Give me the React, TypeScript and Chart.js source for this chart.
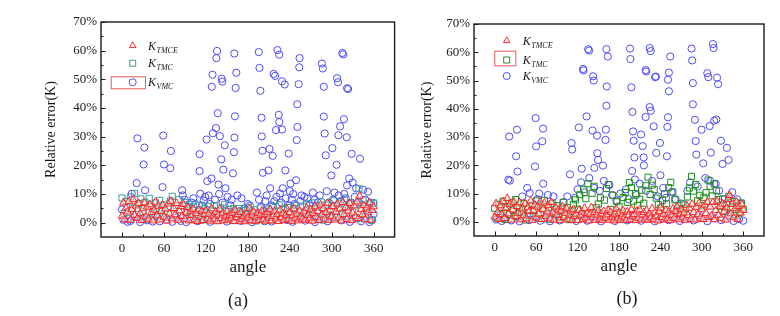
import React, { useEffect, useRef } from 'react';
import { Chart, registerables } from 'chart.js';

Chart.register(...registerables);

const FONT = '"Liberation Serif", "Times New Roman", serif';

// ---------- tick labels ----------
const xTicks = [0, 60, 120, 180, 240, 300, 360];
const xMinorTicks = [30, 90, 150, 210, 270, 330];
const yTicks = [0, 10, 20, 30, 40, 50, 60, 70];
const yMinorTicks = [5, 15, 25, 35, 45, 55, 65];

// ---------- angle grids ----------
const angles2 = [
  0, 2, 4, 6, 8, 10, 12, 14, 16, 18,
  20, 22, 24, 26, 28, 30, 32, 34, 36, 38,
  40, 42, 44, 46, 48, 50, 52, 54, 56, 58,
  60, 62, 64, 66, 68, 70, 72, 74, 76, 78,
  80, 82, 84, 86, 88, 90, 92, 94, 96, 98,
  100, 102, 104, 106, 108, 110, 112, 114, 116, 118,
  120, 122, 124, 126, 128, 130, 132, 134, 136, 138,
  140, 142, 144, 146, 148, 150, 152, 154, 156, 158,
  160, 162, 164, 166, 168, 170, 172, 174, 176, 178,
  180, 182, 184, 186, 188, 190, 192, 194, 196, 198,
  200, 202, 204, 206, 208, 210, 212, 214, 216, 218,
  220, 222, 224, 226, 228, 230, 232, 234, 236, 238,
  240, 242, 244, 246, 248, 250, 252, 254, 256, 258,
  260, 262, 264, 266, 268, 270, 272, 274, 276, 278,
  280, 282, 284, 286, 288, 290, 292, 294, 296, 298,
  300, 302, 304, 306, 308, 310, 312, 314, 316, 318,
  320, 322, 324, 326, 328, 330, 332, 334, 336, 338,
  340, 342, 344, 346, 348, 350, 352, 354, 356, 358,
  360,
];

const angles3 = [
  0, 3, 6, 9, 12, 15, 18, 21, 24, 27,
  30, 33, 36, 39, 42, 45, 48, 51, 54, 57,
  60, 63, 66, 69, 72, 75, 78, 81, 84, 87,
  90, 93, 96, 99, 102, 105, 108, 111, 114, 117,
  120, 123, 126, 129, 132, 135, 138, 141, 144, 147,
  150, 153, 156, 159, 162, 165, 168, 171, 174, 177,
  180, 183, 186, 189, 192, 195, 198, 201, 204, 207,
  210, 213, 216, 219, 222, 225, 228, 231, 234, 237,
  240, 243, 246, 249, 252, 255, 258, 261, 264, 267,
  270, 273, 276, 279, 282, 285, 288, 291, 294, 297,
  300, 303, 306, 309, 312, 315, 318, 321, 324, 327,
  330, 333, 336, 339, 342, 345, 348, 351, 354, 357,
  360,
];

// ---------- panel (a) ----------
const tmceA = [
  2.3, 6.9, 1.1, 5.2, 3.8, 7.4, 0.9, 4.6, 8.1, 2.7,
  5.9, 1.6, 6.7, 3.2, 0.8, 4.9, 7.0, 2.1, 5.5, 1.3,
  6.3, 3.6, 0.7, 4.4, 7.2, 2.5, 5.8, 1.0, 3.9, 6.1,
  2.0, 4.8, 0.6, 6.6, 3.1, 7.5, 1.4, 5.0, 2.8, 6.8,
  0.9, 4.1, 5.7, 2.2, 6.4, 1.2, 3.5, 5.3, 0.7, 4.0,
  2.6, 4.7, 1.0, 3.3, 0.5, 4.5, 2.0, 3.9, 0.8, 2.9,
  4.2, 1.3, 3.0, 0.6, 4.9, 2.4, 1.1, 3.7, 0.4, 2.7,
  4.6, 1.5, 3.2, 0.7, 2.1, 3.9, 0.9, 2.6, 1.4, 3.4,
  0.5, 4.3, 1.8, 2.9, 0.6, 3.6, 1.2, 2.3, 0.4, 3.1,
  1.7, 5.0, 0.8, 2.5, 3.8, 0.5, 1.9, 3.3, 0.9, 2.6,
  4.1, 1.0, 2.8, 0.6, 3.5, 1.6, 4.6, 0.7, 2.2, 3.9,
  1.3, 2.9, 0.5, 4.4, 1.8, 3.2, 0.8, 2.5, 4.8, 1.1,
  3.6, 0.6, 2.4, 4.9, 1.5, 3.0, 0.7, 4.2, 2.0, 1.2,
  3.8, 0.9, 5.1, 2.6, 1.4, 4.5, 0.6, 3.3, 5.6, 1.9,
  4.0, 0.8, 6.2, 2.7, 5.0, 1.3, 3.6, 6.8, 0.9, 4.4,
  2.1, 5.7, 1.0, 3.8, 6.5, 1.7, 4.9, 0.7, 7.1, 2.9,
  5.3, 1.2, 4.1, 6.7, 0.8, 3.4, 5.9, 2.2, 7.3, 1.5,
  9.3, 4.6, 2.8, 6.0, 1.1, 5.2, 3.5, 7.0, 0.9, 4.3,
  5.6,
];

const tmcA = [
  8.6, 3.2, 7.4, 1.5, 9.0, 5.1, 10.2, 2.8, 6.7, 8.3,
  4.0, 7.1, 1.2, 8.5, 5.6, 3.3, 6.9, 2.0, 7.8, 4.7,
  6.2, 1.8, 5.4, 7.6, 9.2, 3.0, 6.0, 8.0, 2.5, 5.8,
  7.0, 3.6, 6.3, 1.1, 5.5, 4.2, 2.3, 6.1, 0.9, 4.8,
  3.5, 5.7, 1.6, 4.4, 6.0, 2.7, 0.8, 5.2, 3.9, 6.4,
  1.4, 4.6, 2.9, 5.0, 0.7, 3.8, 4.9, 1.9, 3.1, 4.3,
  5.4, 1.0, 3.7, 4.5, 0.6, 2.8, 5.1, 1.5, 4.0, 3.2,
  4.8, 0.9, 5.6, 2.4, 3.9, 6.2, 1.3, 4.6, 2.0, 5.3,
  3.6, 0.8, 4.9, 6.0, 1.7, 3.4, 5.8, 2.6, 6.6, 1.2,
  4.7, 6.9, 2.1, 5.5, 3.3, 7.2, 0.9, 6.1, 4.0, 2.6,
  5.9, 7.6, 1.8, 4.8, 6.8, 3.0, 8.1, 2.2, 5.4, 7.0,
  3.7, 6.3, 1.4, 11.8, 5.0, 7.9, 2.9, 4.4, 6.5, 0.8,
  6.9,
];

const vmcA: [number, number][] = [
  [0, 4.6], [2, 1.0], [8, 0.3], [12, 0.6], [14, 10.1], [18, 2.1], [21, 13.8], [22, 29.4],
  [26, 0.2], [30, 1.5], [31, 20.3], [32, 26.2], [33, 11.3], [36, 0.8], [44, 0.4], [48, 2.4],
  [54, 0.5], [58, 12.4], [59, 30.4], [60, 20.3], [64, 1.2], [69, 19.0], [70, 25.0], [72, 0.3],
  [78, 1.8], [84, 0.6], [86, 11.3], [87, 9.5], [90, 8.0], [92, 0.2], [95, 5.5], [98, 2.0],
  [100, 7.0], [102, 8.5], [105, 6.5], [108, 0.5], [111, 23.9], [111, 18.0], [112, 10.1], [114, 1.1],
  [115, 6.0], [117, 7.7], [119, 9.0], [121, 29.0], [122, 14.5], [124, 9.5], [126, 6.5], [126, 0.3],
  [128, 15.4], [128.5, 47.4], [129.5, 51.6], [130, 31.2], [132, 1.7], [133, 8.0], [134.5, 33.0], [135, 57.4],
  [136, 59.9], [137, 38.2], [138, 13.3], [139, 10.0], [140, 30.2], [142, 22.1], [142.7, 50.2], [143.6, 49.2],
  [144, 7.0], [145, 18.5], [147, 27.0], [148, 12.0], [150, 0.4], [151, 9.0], [154, 2.2], [155, 6.0],
  [157, 8.0], [158.8, 17.2], [160.2, 24.6], [161, 29.7], [161.6, 37.1], [160.7, 59.0], [162.6, 47.0], [163.5, 52.3],
  [165, 9.5], [168, 4.0], [170, 0.6], [171, 8.5], [175, 5.0], [178, 1.3], [180, 6.5], [183, 6.0],
  [186, 0.2], [187, 3.5], [190, 1.9], [193, 10.5], [195.7, 59.5], [196, 8.0], [196.7, 54.0], [198, 46.0],
  [199, 5.5], [199.6, 36.6], [200, 30.1], [201, 25.1], [201.5, 17.4], [204, 0.5], [205, 7.5], [207, 9.5],
  [208, 2.6], [209.5, 18.2], [211, 25.7], [212, 12.0], [214, 6.0], [214, 0.4], [215.6, 23.3], [217, 51.9],
  [218, 7.5], [219, 51.2], [220.4, 32.3], [221, 9.0], [222.3, 60.2], [224.3, 37.6], [225, 58.6], [225, 35.1],
  [226, 10.2], [228, 7.0], [229, 32.5], [229, 49.3], [230, 12.0], [232.8, 48.2], [233.7, 18.2], [234, 8.5],
  [236, 0.9], [238.4, 24.1], [239, 6.0], [240, 11.0], [241, 13.6], [243, 8.0], [244, 0.3], [245, 10.0],
  [247, 6.5], [249, 14.8], [250, 28.8], [251, 33.4], [250.7, 41.3], [252.7, 48.3], [253.6, 54.2], [254, 57.4],
  [255, 7.5], [256, 1.6], [257, 9.5], [261, 9.0], [262, 0.7], [265, 8.5], [268, 6.0], [268, 2.8],
  [273, 10.5], [276, 8.0], [276, 0.2], [280, 7.0], [282, 1.4], [283, 9.5], [286, 55.5], [287.3, 53.8],
  [288.7, 47.4], [288.7, 37.0], [290, 31.1], [291.5, 23.5], [293, 11.0], [294, 0.5], [296, 7.0], [298, 2.0],
  [299.5, 16.5], [301, 26.0], [302, 8.0], [304, 10.5], [307, 20.2], [307.7, 50.4], [309, 49.0], [309.6, 30.5],
  [310, 9.5], [312, 33.6], [313, 7.5], [314, 0.8], [315.2, 59.2], [316.5, 58.7], [317.5, 36.1], [318, 10.0],
  [320, 8.5], [321.5, 29.8], [322, 46.9], [322, 13.0], [323.5, 46.6], [325, 15.4], [326, 0.3], [327, 6.5],
  [328.6, 24.0], [330, 14.0], [333, 9.0], [334, 1.7], [335, 12.0], [338, 7.0], [340.5, 22.3], [342, 0.5],
  [345, 11.5], [348, 8.0], [348, 2.1], [352, 10.8], [354, 0.2], [356, 7.0], [358, 1.0], [360, 6.8],
  [360, 3.0],
];

// ---------- panel (b) ----------
const tmceB = [
  1.8, 6.5, 3.4, 0.9, 5.7, 2.6, 7.2, 1.3, 4.8, 8.3,
  2.9, 6.1, 0.7, 4.3, 7.0, 1.9, 5.5, 3.1, 6.8, 0.8,
  4.6, 2.2, 6.4, 1.1, 5.1, 3.7, 7.4, 0.6, 4.0, 6.0,
  1.5, 5.3, 2.8, 7.1, 0.9, 4.5, 6.7, 2.0, 3.6, 5.9,
  1.2, 6.9, 3.3, 0.7, 5.0, 2.5, 4.2, 0.5, 3.8, 5.4,
  1.6, 3.1, 4.7, 0.8, 2.4, 3.9, 0.6, 4.4, 1.9, 2.8,
  0.5, 4.1, 2.2, 3.5, 0.9, 4.8, 1.4, 3.0, 0.4, 2.6,
  5.1, 1.7, 3.3, 0.6, 2.4, 4.0, 1.0, 2.9, 0.5, 3.7,
  1.3, 2.5, 4.2, 0.7, 3.4, 1.6, 0.4, 2.8, 4.6, 1.1,
  3.2, 0.6, 2.1, 4.0, 1.4, 0.5, 3.6, 2.3, 0.8, 4.4,
  1.8, 2.7, 0.5, 3.9, 1.2, 4.3, 0.7, 2.5, 3.4, 1.0,
  4.1, 0.6, 2.9, 1.5, 4.7, 0.9, 3.3, 2.0, 0.4, 3.7,
  5.0, 1.6, 2.6, 0.7, 4.1, 1.1, 3.5, 0.5, 2.2, 4.6,
  1.3, 3.8, 5.4, 0.8, 2.7, 4.4, 1.5, 3.1, 0.6, 5.8,
  2.3, 4.9, 1.0, 6.3, 3.4, 0.7, 5.2, 2.6, 6.6, 1.4,
  4.5, 0.9, 6.0, 3.0, 7.0, 1.6, 5.3, 2.1, 6.9, 0.8,
  4.0, 7.2, 2.4, 5.6, 1.2, 6.4, 3.6, 0.7, 5.0, 8.0,
  9.4, 2.9, 6.2, 1.5, 4.7, 7.1, 0.9, 5.5, 3.2, 6.1,
  4.2,
];

const tmcB = [
  4.8, 1.5, 6.2, 3.0, 7.3, 0.9, 5.4, 2.6, 6.8, 4.1,
  7.9, 1.8, 5.0, 3.4, 6.5, 0.7, 4.4, 2.2, 5.8, 3.9,
  7.4, 1.2, 6.0, 4.6, 7.6, 2.8, 5.2, 0.9, 6.4, 3.5,
  5.7, 1.6, 4.3, 6.9, 2.4, 5.1, 0.8, 3.7, 6.2, 7.8,
  4.5, 9.6, 2.7, 11.4, 8.2, 13.5, 3.1, 10.1, 12.6, 5.0,
  6.3, 8.5, 2.1, 7.7, 11.8, 13.2, 4.4, 9.4, 1.8, 7.1,
  5.5, 3.0, 8.6, 10.4, 6.9, 13.9, 12.2, 7.3, 10.0, 5.8,
  8.0, 11.2, 6.6, 12.8, 15.8, 9.7, 13.0, 11.5, 8.4, 6.1,
  4.9, 7.6, 9.9, 6.4, 12.1, 14.0, 10.6, 7.8, 4.0, 5.9,
  3.2, 6.3, 4.7, 8.8, 12.0, 16.1, 10.9, 13.2, 7.5, 9.4,
  5.7, 8.7, 10.3, 14.8, 12.6, 9.2, 13.4, 11.0, 7.9, 5.5,
  8.1, 3.6, 6.4, 9.0, 4.9, 7.3, 2.3, 5.6, 3.1, 6.7,
  4.4,
];

const vmcB: [number, number][] = [
  [2, 0.8], [6, 2.5], [10, 0.3], [14, 1.4], [19.7, 14.9], [21, 30.2], [22, 14.6], [24, 0.5],
  [28, 2.2], [31, 23.2], [32.2, 32.6], [33, 17.8], [36, 0.2], [40, 9.0], [42, 1.6], [47, 12.0],
  [50, 0.6], [50.6, 10.2], [56, 2.0], [58.3, 19.6], [59.2, 36.7], [60, 26.7], [62, 8.0], [64.5, 10.0],
  [66, 0.4], [68.8, 28.5], [70, 33.0], [70.3, 13.5], [72, 1.2], [77, 9.5], [80, 0.2], [85, 9.0],
  [88, 2.6], [94, 0.5], [100, 7.0], [105, 9.0], [109, 16.8], [110, 1.0], [111.3, 27.9], [112.2, 25.6],
  [116, 8.5], [118, 0.3], [120, 11.5], [121.8, 33.4], [125, 14.0], [126, 18.8], [128, 54.1], [128.6, 53.6],
  [128, 2.1], [130, 10.5], [133, 37.3], [134, 0.4], [135.3, 61.1], [136.7, 60.6], [137, 15.5], [141.6, 32.3],
  [142.5, 51.5], [143.4, 50.0], [144, 12.0], [144.3, 19.1], [146, 1.5], [148.2, 30.5], [148.6, 24.3], [149.6, 21.9],
  [152, 11.0], [154, 0.2], [156.8, 19.9], [158, 14.5], [160.5, 29.0], [160.9, 32.6], [161.8, 41.1], [161.8, 61.1],
  [162, 1.8], [162.3, 47.9], [163.7, 58.5], [166, 13.0], [170, 9.5], [174, 0.3], [176, 7.5], [182, 10.0],
  [184, 1.2], [190, 11.5], [192, 0.5], [194, 8.0], [196, 61.3], [196.5, 57.6], [197.9, 47.6], [199.4, 38.9],
  [200, 2.3], [200.3, 32.0], [201.3, 28.7], [202.3, 22.8], [203, 15.0], [199, 18.0], [205, 9.5], [210, 13.5],
  [211.9, 30.9], [212, 0.4], [214.3, 26.8], [215.7, 22.8], [216, 20.0], [218.6, 53.7], [219.5, 53.2], [218.6, 37.1],
  [219, 11.0], [222, 1.7], [224.4, 61.5], [224.4, 40.6], [225.9, 60.4], [226, 39.3], [228, 14.5], [230.2, 33.8],
  [232, 0.2], [232.2, 51.2], [233.5, 51.4], [234, 24.4], [236, 9.0], [239.3, 27.9], [240, 16.5], [242, 1.1],
  [244, 12.0], [248, 8.5], [249.4, 23.2], [250, 33.6], [250.9, 37.0], [250.9, 50.3], [252, 0.6], [252.3, 46.2],
  [252.3, 52.8], [254.2, 58.5], [256, 10.5], [260, 2.0], [262, 8.0], [268, 0.3], [270, 6.5], [278, 1.5],
  [279, 11.0], [283, 14.0], [285.1, 61.3], [286, 57.1], [287, 49.1], [287, 41.6], [288, 0.5], [290, 36.1],
  [291, 28.6], [292, 23.8], [294, 12.5], [296, 2.4], [299.6, 32.6], [302, 20.7], [305, 15.5], [307.9, 52.6],
  [308, 0.2], [309.4, 51.2], [311.3, 33.9], [312, 14.5], [313, 24.5], [316, 62.9], [317, 61.5], [317.8, 35.8],
  [318, 1.3], [320, 13.5], [321, 36.2], [322, 51.0], [323.5, 48.7], [325, 11.0], [327.7, 28.7], [328, 0.6],
  [330, 20.5], [333, 8.0], [336.3, 26.2], [338, 2.2], [338.7, 21.9], [344, 10.5], [346, 0.3], [351, 8.0],
  [354, 1.0], [357, 6.5], [360, 0.4],
];

const seriesNames = ['TMCE', 'TMC', 'VMC'];

const RED = '#ff2424';
const BLUE = '#4c4cf6';

type PanelCfg = {
  left: number;
  width: number;
  padTop: number;
  padRight: number;
  yWidth: number;
  xHeight: number;
  yTitlePad: number;
  xTitlePad: number;
  tmcColor: string;
  tmce: number[];
  tmc: number[];
  vmc: [number, number][];
  caption: string;
  captionX: number;
  captionY: number;
  legendX: number;
  legendYs: number[];
  legendTextX: number;
  box: { x: number; y: number; w: number; h: number };
};

const panels: PanelCfg[] = [
  {
    left: 0, width: 400, padTop: 22, padRight: 5, yWidth: 101, xHeight: 79,
    yTitlePad: 43, xTitlePad: 38, tmcColor: '#3a9d9d',
    tmce: tmceA, tmc: tmcA, vmc: vmcA,
    caption: '(a)', captionX: 238, captionY: 300,
    legendX: 132.7, legendYs: [45.7, 63.3, 82.3], legendTextX: 148,
    box: { x: 110.7, y: 76.3, w: 34.3, h: 12 },
  },
  {
    left: 400, width: 380, padTop: 24, padRight: 16, yWidth: 74, xHeight: 80,
    yTitlePad: 19, xTitlePad: 39, tmcColor: '#1f8c1f',
    tmce: tmceB, tmc: tmcB, vmc: vmcB,
    caption: '(b)', captionX: 627, captionY: 298,
    legendX: 106.7, legendYs: [40.7, 60, 76], legendTextX: 122.7,
    box: { x: 94.3, y: 50.7, w: 21, h: 14.6 },
  },
];

function drawShape(ctx: CanvasRenderingContext2D, style: string, x: number, y: number, color: string) {
  ctx.save();
  ctx.strokeStyle = color;
  ctx.lineWidth = 1;
  ctx.beginPath();
  if (style === 'triangle') {
    const r = 3.8;
    for (let k = 0; k < 3; k++) {
      const a = (k * 2 * Math.PI) / 3;
      const px = x + Math.sin(a) * r;
      const py = y - Math.cos(a) * r;
      if (k === 0) ctx.moveTo(px, py); else ctx.lineTo(px, py);
    }
    ctx.closePath();
  } else if (style === 'rect') {
    ctx.rect(x - 3, y - 3, 6, 6);
  } else {
    ctx.arc(x, y, 3.5, 0, Math.PI * 2);
  }
  ctx.stroke();
  ctx.restore();
}

function makePlugin(cfg: PanelCfg) {
  return {
    id: 'frameAndLegend',
    afterDraw(chart: any) {
      const ctx: CanvasRenderingContext2D = chart.ctx;
      const { left, right, top, bottom } = chart.chartArea;
      const xs = chart.scales.x;
      const ys = chart.scales.y;
      ctx.save();
      ctx.strokeStyle = '#1a1a1a';
      ctx.lineWidth = 1.4;
      ctx.strokeRect(left, top, right - left, bottom - top);
      ctx.lineWidth = 1;
      ctx.beginPath();
      xTicks.forEach((v) => {
        const p = Math.round(xs.getPixelForValue(v)) + 0.5;
        ctx.moveTo(p, bottom); ctx.lineTo(p, bottom - 4.5);
      });
      xMinorTicks.forEach((v) => {
        const p = Math.round(xs.getPixelForValue(v)) + 0.5;
        ctx.moveTo(p, bottom); ctx.lineTo(p, bottom - 2.5);
      });
      yTicks.forEach((v) => {
        const p = Math.round(ys.getPixelForValue(v)) + 0.5;
        ctx.moveTo(left, p); ctx.lineTo(left + 4.5, p);
      });
      yMinorTicks.forEach((v) => {
        const p = Math.round(ys.getPixelForValue(v)) + 0.5;
        ctx.moveTo(left, p); ctx.lineTo(left + 2.5, p);
      });
      ctx.stroke();

      // legend
      const styles = ['triangle', 'rect', 'circle'];
      const colors = [RED, cfg.tmcColor, BLUE];
      seriesNames.forEach((name, i) => {
        const y = cfg.legendYs[i];
        drawShape(ctx, styles[i], cfg.legendX, y, colors[i]);
        ctx.fillStyle = '#1a1a1a';
        ctx.textBaseline = 'alphabetic';
        ctx.textAlign = 'left';
        ctx.font = `italic 12px ${FONT}`;
        ctx.fillText('K', cfg.legendTextX, y + 4);
        const kw = ctx.measureText('K').width;
        ctx.font = `italic 8px ${FONT}`;
        ctx.fillText(name, cfg.legendTextX + kw + 0.5, y + 7);
      });
      ctx.strokeStyle = '#e85a5a';
      ctx.lineWidth = 1;
      ctx.strokeRect(cfg.box.x + 0.5, cfg.box.y + 0.5, cfg.box.w, cfg.box.h);
      ctx.restore();
    },
  };
}

function Panel({ cfg }: { cfg: PanelCfg }) {
  const ref = useRef<HTMLCanvasElement>(null);
  useEffect(() => {
    const chart = new Chart(ref.current as HTMLCanvasElement, {
      type: 'scatter',
      data: {
        datasets: [
          {
            label: 'K_TMCE',
            data: cfg.tmce.map((v, i) => ({ x: angles2[i], y: v })),
            pointStyle: 'triangle',
            pointRadius: 4.4,
            pointHoverRadius: 4.4,
            borderColor: RED,
            backgroundColor: 'rgba(255,215,215,0.45)',
            pointBorderWidth: 1,
          },
          {
            label: 'K_TMC',
            data: cfg.tmc.map((v, i) => ({ x: angles3[i], y: v })),
            pointStyle: 'rect',
            pointRadius: 4.3,
            pointHoverRadius: 4.3,
            borderColor: cfg.tmcColor,
            backgroundColor: 'rgba(255,255,255,0)',
            pointBorderWidth: 1,
          },
          {
            label: 'K_VMC',
            data: cfg.vmc.map(([a, v]) => ({ x: a, y: v })),
            pointStyle: 'circle',
            pointRadius: 3.6,
            pointHoverRadius: 3.6,
            borderColor: BLUE,
            backgroundColor: 'rgba(255,255,255,0)',
            pointBorderWidth: 1,
          },
        ],
      },
      options: {
        responsive: false,
        animation: false,
        devicePixelRatio: 1,
        layout: { padding: { left: 0, top: cfg.padTop, right: cfg.padRight, bottom: 0 } },
        plugins: { legend: { display: false }, tooltip: { enabled: false } },
        events: [],
        scales: {
          x: {
            type: 'linear',
            min: -30,
            max: 390,
            afterBuildTicks: (axis: any) => {
              axis.ticks = xTicks.map((value) => ({ value }));
            },
            afterFit: (axis: any) => {
              axis.height = cfg.xHeight;
            },
            grid: { display: false, drawTicks: false },
            border: { display: false },
            ticks: {
              color: '#1a1a1a',
              padding: 4,
              maxRotation: 0,
              autoSkip: false,
              font: { family: FONT, size: 13 },
            },
            title: {
              display: true,
              text: 'angle',
              color: '#1a1a1a',
              font: { family: FONT, size: 17 },
              padding: { top: 0, bottom: cfg.xTitlePad },
            },
          },
          y: {
            type: 'linear',
            min: -5,
            max: 70,
            afterBuildTicks: (axis: any) => {
              axis.ticks = yTicks.map((value) => ({ value }));
            },
            afterFit: (axis: any) => {
              axis.width = cfg.yWidth;
            },
            grid: { display: false, drawTicks: false },
            border: { display: false },
            ticks: {
              color: '#1a1a1a',
              padding: 4,
              autoSkip: false,
              font: { family: FONT, size: 13 },
              callback: (v: any) => `${v}%`,
            },
            title: {
              display: true,
              text: 'Relative error(K)',
              color: '#1a1a1a',
              font: { family: FONT, size: 14 },
              padding: { top: cfg.yTitlePad, bottom: 0 },
            },
          },
        },
      },
      plugins: [makePlugin(cfg)],
    } as any);
    return () => chart.destroy();
  }, [cfg]);
  return (
    <>
      <canvas
        ref={ref}
        width={cfg.width}
        height={316}
        style={{ position: 'absolute', left: cfg.left, top: 0, width: cfg.width, height: 316 }}
      />
      <div
        style={{
          position: 'absolute',
          left: cfg.captionX - 40,
          top: cfg.captionY - 11,
          width: 80,
          height: 22,
          lineHeight: '22px',
          textAlign: 'center',
          fontFamily: FONT,
          fontSize: 18,
          color: '#1a1a1a',
        }}
      >
        {cfg.caption}
      </div>
    </>
  );
}

export default function App() {
  return (
    <div
      style={{
        position: 'absolute',
        left: 0,
        top: 0,
        width: 780,
        height: 316,
        background: '#ffffff',
        overflow: 'hidden',
      }}
    >
      {panels.map((p) => (
        <Panel key={p.caption} cfg={p} />
      ))}
    </div>
  );
}
